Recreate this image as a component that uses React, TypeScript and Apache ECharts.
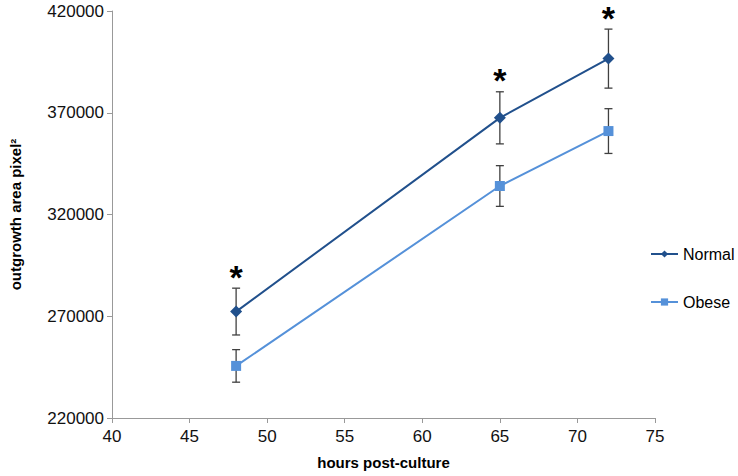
import React, { useEffect, useRef } from "react";
import * as echarts from "echarts";

const hours = [48, 65, 72];
const normalMean = [272300, 367500, 396600];
const normalErr = [11500, 12800, 14500];
const obeseMean = [245600, 334000, 361000];
const obeseErr = [8000, 10000, 11000];
const significant = [true, true, true];
const seriesNames = ["Normal", "Obese"];
const colors = ["#21508c", "#5591d9"];

export default function App() {
  const ref = useRef<HTMLDivElement>(null);
  useEffect(() => {
    const chart = echarts.init(ref.current!, undefined, { renderer: "svg" });
    const errData = (mean: number[], err: number[]) =>
      hours.map((h, i) => [h, mean[i] - err[i], mean[i] + err[i]]);
    const errorSeries = (data: number[][]) => ({
      type: "custom",
      silent: true,
      z: 1,
      renderItem: (params: any, api: any) => {
        const x = api.value(0);
        const lo = api.coord([x, api.value(1)]);
        const hi = api.coord([x, api.value(2)]);
        const w = 4;
        const st = { stroke: "#404040", lineWidth: 1.3 };
        return {
          type: "group",
          children: [
            { type: "line", shape: { x1: lo[0], y1: lo[1], x2: hi[0], y2: hi[1] }, style: st },
            { type: "line", shape: { x1: lo[0] - w, y1: lo[1], x2: lo[0] + w, y2: lo[1] }, style: st },
            { type: "line", shape: { x1: hi[0] - w, y1: hi[1], x2: hi[0] + w, y2: hi[1] }, style: st },
          ],
        };
      },
      data,
      encode: { x: 0, y: [1, 2] },
    });
    const starData = hours
      .map((h, i) => [h, normalMean[i] + normalErr[i]])
      .filter((_, i) => significant[i]);
    const labelStyle = { fontFamily: "Liberation Sans", fontSize: 17, color: "#111" };
    const nameStyle = { fontFamily: "Liberation Sans", fontSize: 15, fontWeight: "bold", color: "#000" };
    chart.setOption({
      animation: false,
      grid: { left: 111, right: 83, top: 11, bottom: 58 },
      legend: {
        orient: "vertical",
        left: 650,
        top: 246,
        padding: 0,
        itemGap: 32,
        itemWidth: 27,
        itemHeight: 9,
        data: seriesNames,
        textStyle: { fontFamily: "Liberation Sans", fontSize: 16, color: "#000" },
      },
      xAxis: {
        type: "value",
        min: 40,
        max: 75,
        interval: 5,
        name: "hours post-culture",
        nameLocation: "middle",
        nameGap: 37,
        nameTextStyle: nameStyle,
        axisLine: { show: true, lineStyle: { color: "#999" } },
        axisTick: { show: true, length: 5, lineStyle: { color: "#999" } },
        axisLabel: { ...labelStyle, margin: 10 },
        splitLine: { show: false },
      },
      yAxis: {
        type: "value",
        min: 220000,
        max: 420000,
        interval: 50000,
        name: "outgrowth area pixel²",
        nameLocation: "middle",
        nameGap: 89,
        nameTextStyle: nameStyle,
        axisLine: { show: true, lineStyle: { color: "#999" } },
        axisTick: { show: true, length: 5, lineStyle: { color: "#999" } },
        axisLabel: { ...labelStyle, margin: 8, formatter: (v: number) => String(v) },
        splitLine: { show: false },
      },
      series: [
        errorSeries(errData(normalMean, normalErr)),
        errorSeries(errData(obeseMean, obeseErr)),
        {
          name: "Normal",
          type: "line",
          data: hours.map((h, i) => [h, normalMean[i]]),
          symbol: "diamond",
          symbolSize: 12,
          z: 3,
          itemStyle: { color: colors[0] },
          lineStyle: { color: colors[0], width: 2 },
        },
        {
          name: "Obese",
          type: "line",
          data: hours.map((h, i) => [h, obeseMean[i]]),
          symbol: "rect",
          symbolSize: 10,
          z: 3,
          itemStyle: { color: colors[1] },
          lineStyle: { color: colors[1], width: 2 },
        },
        {
          type: "custom",
          silent: true,
          renderItem: (params: any, api: any) => {
            const p = api.coord([api.value(0), api.value(1)]);
            return {
              type: "text",
              x: p[0],
              y: p[1] - 11.5,
              style: {
                text: "*",
                fontFamily: "Liberation Sans",
                fontSize: 34,
                lineHeight: 22,
                fontWeight: "bold",
                fill: "#000",
                align: "center",
                verticalAlign: "middle",
              },
            };
          },
          data: starData,
          encode: { x: 0, y: 1 },
        },
      ],
    });
    return () => chart.dispose();
  }, []);
  return (
    <div
      ref={ref}
      style={{ position: "absolute", left: 0, top: 0, width: 738, height: 476 }}
    />
  );
}
